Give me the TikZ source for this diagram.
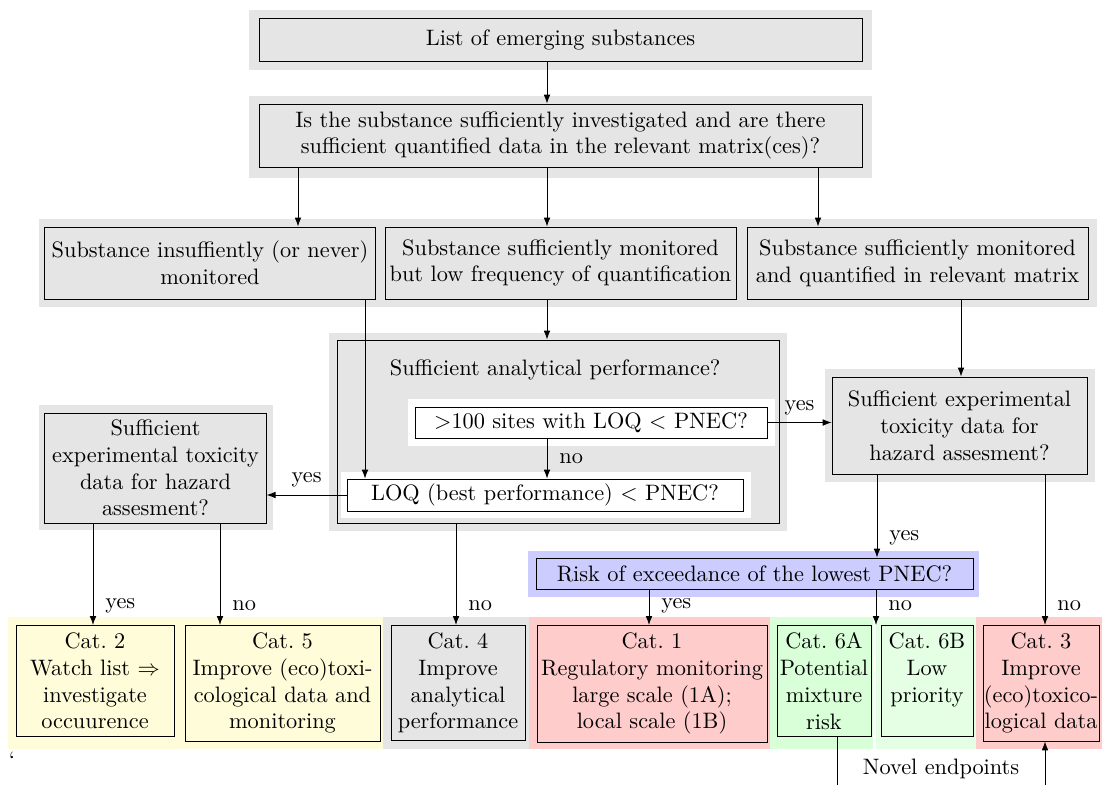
\documentclass[tikz,border=0pt]{standalone}
\usetikzlibrary{arrows.meta}
\begin{document}
\begin{tikzpicture}[x=0.448pt, y=-0.448pt, >={Latex[length=4pt, width=3pt]},
  greybox/.style={draw, fill=gray!20, align=center},
  whitebox/.style={draw, fill=white, align=center, inner ysep=2pt},
  catbox/.style={draw, align=center, anchor=north, inner xsep=0pt},
  lbl/.style={right, xshift=2pt}]
\useasboundingbox (0,0) rectangle (1102,784);
% background bands
\fill[gray!20] (249,10) rectangle (872,70);
\fill[gray!20] (249,96) rectangle (872,178);
\fill[gray!20] (39,219) rectangle (1097,307);
\fill[gray!20] (329,333) rectangle (787,531);
\fill[gray!20] (39,405) rectangle (273,530);
\fill[gray!20] (825,369) rectangle (1095,482);
\fill[blue!20] (528,551) rectangle (979,597);
\fill[yellow!15] (8,617) rectangle (383,749);
\fill[gray!20] (383,617) rectangle (529,749);
\fill[red!20] (529,617) rectangle (770,749);
\fill[green!15] (770,617) rectangle (873,749);
\fill[green!10] (876,617) rectangle (976,749);
\fill[red!20] (976,617) rectangle (1110,749);
% analytical performance block
\node[greybox, minimum width=198pt, minimum height=82pt] (anaperf) at (558,431.5) {};
\node[anchor=west] (anatitle) at (382,370) {Sufficient analytical performance?};
\fill[white] (408,399) rectangle (775,446);
\fill[white] (341,472) rectangle (751,518);
\node[whitebox, minimum width=157.7pt, minimum height=13.9pt] (sites) at (591,422.5) {$>$100 sites with LOQ $<$ PNEC?};
\node[whitebox, minimum width=177.4pt, minimum height=14.3pt] (loqbest) at (545,495) {LOQ (best performance) $<$ PNEC?};
% question boxes
\node[greybox, minimum width=270.1pt, minimum height=19.3pt] (list) at (560.5,39.5) {List of emerging substances};
\node[greybox, minimum width=270.1pt, minimum height=28.2pt] (quest) at (560.5,135.5) {Is the substance sufficiently investigated and are there\\sufficient quantified data in the relevant matrix(ces)?};
\node[greybox, minimum width=146.9pt, minimum height=32.3pt] (insuff) at (210,263) {Substance insuffiently (or never)\\monitored};
\node[greybox, minimum width=157.2pt, minimum height=32.3pt, inner xsep=1pt] (lowfreq) at (560.5,263) {Substance sufficiently monitored\\but low frequency of quantification};
\node[greybox, minimum width=152.8pt, minimum height=32.3pt] (suffmon) at (917.5,263) {Substance sufficiently monitored\\and quantified in relevant matrix};
\node[greybox, minimum width=98.1pt, minimum height=49.3pt, inner ysep=2pt] (toxleft) at (155.5,468) {Sufficient\\experimental toxicity\\data for hazard\\assesment?};
\node[greybox, minimum width=114.2pt, minimum height=43.5pt] (toxright) at (959.5,425.5) {Sufficient experimental\\toxicity data for\\hazard assesment?};
\node[draw, fill=blue!20, minimum width=195.8pt, minimum height=13.9pt, inner ysep=2pt] (risk) at (754.5,573.5) {Risk of exceedance of the lowest PNEC?};
% categories
\node[catbox, fill=yellow!15, minimum width=70.8pt] (cattwo) at (95,625) {Cat.~2\\Watch list $\Rightarrow$\\investigate\\occuurence};
\node[catbox, fill=yellow!15, minimum width=87.4pt] (catfive) at (282.5,625) {Cat.~5\\Improve (eco)toxi-\\cological data and\\monitoring};
\node[catbox, fill=gray!20, minimum width=60pt] (catfour) at (458,625) {Cat.~4\\Improve\\analytical\\performance};
\node[catbox, fill=red!20, minimum width=103pt] (catone) at (652,625) {Cat.~1\\Regulatory monitoring\\large scale (1A);\\local scale (1B)};
\node[catbox, fill=green!15, minimum width=42.1pt] (catsixa) at (824,625) {Cat.~6A\\Potential\\mixture\\risk};
\node[catbox, fill=green!10, minimum width=41.2pt] (catsixb) at (927,625) {Cat.~6B\\Low\\priority\\\mbox{}};
\node[catbox, fill=red!20, minimum width=52pt] (catthree) at (1041,625) {Cat.~3\\Improve\\(eco)toxico-\\logical data};
\node (quote) at (12,760) {`};
% connectors
\draw[->] (547,0 |- list.south) -- (547,0 |- quest.north);
\draw[->] (298,0 |- quest.south) -- (298,0 |- insuff.north);
\draw[->] (547,0 |- quest.south) -- (547,0 |- lowfreq.north);
\draw[->] (818,0 |- quest.south) -- (818,0 |- suffmon.north);
\draw[->] (547,0 |- lowfreq.south) -- (547,0 |- anaperf.north);
\draw[->] (365,0 |- insuff.south) -- (365,0 |- loqbest.north);
\draw[->] (961,0 |- suffmon.south) -- (961,0 |- toxright.north);
\draw[->] (547,0 |- sites.south) -- node[lbl] {no} (547,0 |- loqbest.north);
\draw[->] (sites.east) -- node[above] {yes} (sites.east -| toxright.west);
\draw[->] (loqbest.west) -- node[above] {yes} (loqbest.west -| toxleft.east);
\draw[->] (93,0 |- toxleft.south) -- node[lbl, pos=0.81] {yes} (93,0 |- cattwo.north);
\draw[->] (220,0 |- toxleft.south) -- node[lbl, pos=0.81] {no} (220,0 |- catfive.north);
\draw[->] (456,0 |- anaperf.south) -- node[lbl, pos=0.81] {no} (456,0 |- catfour.north);
\draw[->] (877,0 |- toxright.south) -- node[lbl, pos=0.76] {yes} (877,0 |- risk.north);
\draw[->] (1045,0 |- toxright.south) -- node[lbl, pos=0.87] {no} (1045,0 |- catthree.north);
\draw[->] (649,0 |- risk.south) -- node[lbl, pos=0.45] {yes} (649,0 |- catone.north);
\draw[->] (876,0 |- risk.south) -- node[lbl, pos=0.45] {no} (876,0 |- catsixb.north);
\coordinate (novel) at (941,787);
\draw[->] (837,0 |- catsixa.south) |- (novel) node[above] {Novel endpoints} -| (1045,0 |- catthree.south);
\end{tikzpicture}
\end{document}
